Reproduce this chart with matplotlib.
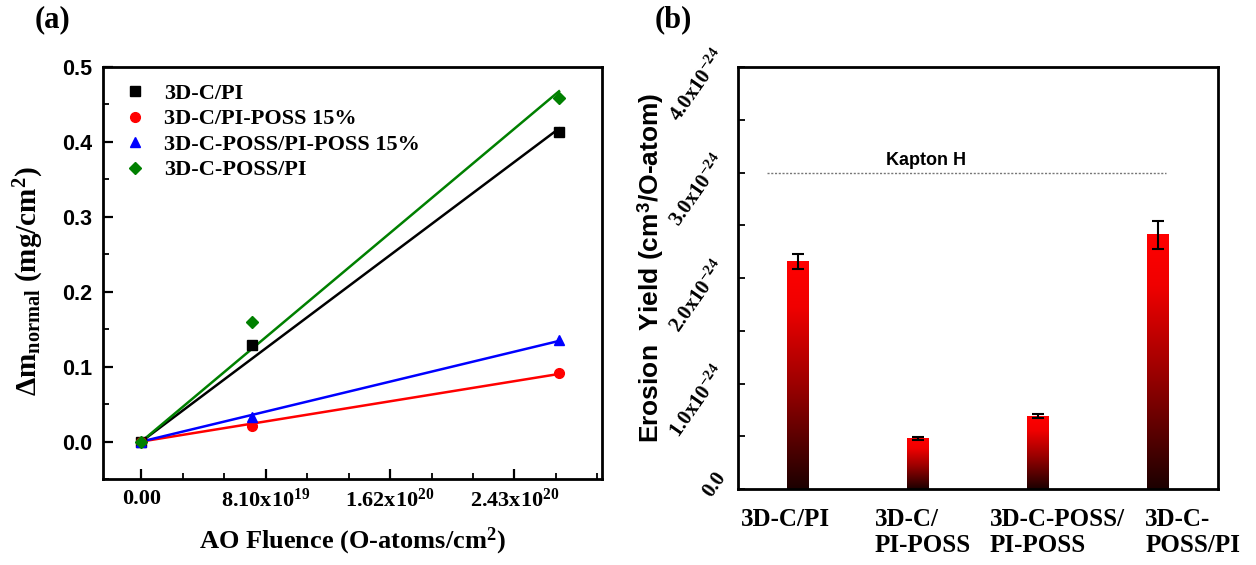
import numpy as np
import matplotlib
matplotlib.use('Agg')
import matplotlib.pyplot as plt
from matplotlib.colors import LinearSegmentedColormap
from matplotlib.ticker import MultipleLocator
from matplotlib.transforms import ScaledTranslation

plt.rcParams['font.family'] = ['Liberation Serif', 'DejaVu Serif']
plt.rcParams['font.weight'] = 'bold'
plt.rcParams['axes.labelweight'] = 'bold'
plt.rcParams['mathtext.fontset'] = 'custom'
plt.rcParams['mathtext.rm'] = 'Liberation Serif:bold'
plt.rcParams['mathtext.bf'] = 'Liberation Serif:bold'
plt.rcParams['mathtext.it'] = 'Liberation Serif:bold'
plt.rcParams['mathtext.sf'] = 'Liberation Sans:bold'

# ---------------- data: panel (a) ----------------
fluence = [0.0, 7.2e19, 2.72e20]
series_names = ['3D-C/PI', '3D-C/PI-POSS 15%', '3D-C-POSS/PI-POSS 15%', '3D-C-POSS/PI']
dm_c_pi = [0.0, 0.129, 0.413]
dm_c_pi_poss = [0.0, 0.021, 0.091]
dm_cposs_piposs = [0.0, 0.033, 0.135]
dm_cposs_pi = [0.0, 0.160, 0.458]
x_ticks_a = [0.0, 8.1e19, 1.62e20, 2.43e20]
x_ticklabels_a = ['0.00', r'$\mathbf{8.10x10^{19}}$', r'$\mathbf{1.62x10^{20}}$', r'$\mathbf{2.43x10^{20}}$']
y_ticks_a = [0.0, 0.1, 0.2, 0.3, 0.4, 0.5]

# ---------------- data: panel (b) ----------------
samples = ['3D-C/PI', '3D-C/\nPI-POSS', '3D-C-POSS/\nPI-POSS', '3D-C-\nPOSS/PI']
erosion_yield = [2.16, 0.475, 0.69, 2.41]      # x 1e-24 cm^3/O-atom
erosion_err = [0.07, 0.015, 0.02, 0.135]
kapton_yield = 3.0
y_ticks_b = [0.0, 1.0, 2.0, 3.0, 4.0]
y_ticklabels_b = ['0.0', r'$\mathbf{1.0x10^{-24}}$', r'$\mathbf{2.0x10^{-24}}$',
                  r'$\mathbf{3.0x10^{-24}}$', r'$\mathbf{4.0x10^{-24}}$']

W, H = 1256, 565
fig = plt.figure(figsize=(W / 100, H / 100), dpi=100)

# ================= panel (a) =================
ax1 = fig.add_axes([103 / W, (H - 479) / H, (602 - 103) / W, (479 - 67) / H])
styles = [('s', 'black'), ('o', 'red'), ('^', 'blue'), ('D', 'green')]
all_series = [dm_c_pi, dm_c_pi_poss, dm_cposs_piposs, dm_cposs_pi]
xf = np.array(fluence)
for name, ys, (mk, col) in zip(series_names, all_series, styles):
    ys = np.array(ys)
    slope = np.sum(xf * ys) / np.sum(xf * xf)
    ax1.plot([xf[0], xf[-1]], [slope * xf[0], slope * xf[-1]], '-', color=col, lw=1.8, zorder=2)
    ax1.plot(xf, ys, linestyle='none', marker=mk, color=col, ms=7 if mk != 'D' else 6.5,
             label=name, zorder=3)

ax1.set_xlim(-2.5e19, 3.0e20)
ax1.set_ylim(-0.05, 0.5)
ax1.set_xticks(x_ticks_a)
ax1.set_xticklabels(x_ticklabels_a, fontsize=16)
ax1.xaxis.set_minor_locator(MultipleLocator(2.7e19))
ax1.set_yticks(y_ticks_a)
ax1.set_yticklabels([f'{v:.1f}' for v in y_ticks_a], fontfamily='Liberation Sans',
                    fontweight='bold', fontsize=15.5)
ax1.yaxis.set_minor_locator(MultipleLocator(0.05))
ax1.tick_params(which='major', direction='in', length=7, width=1.6, top=False, right=False)
ax1.tick_params(which='minor', direction='in', length=4, width=1.3, top=False, right=False)
ax1.tick_params(axis='x', pad=7)
ax1.tick_params(axis='y', pad=8)
for s in ax1.spines.values():
    s.set_linewidth(2)

ax1.set_xlabel(r'AO Fluence (O-atoms/cm$^{\mathbf{2}}$)', fontsize=19, labelpad=10)
ax1.set_ylabel(r'$\Delta\mathbf{m}_{\mathbf{normal}}$ (mg/cm$^{\mathbf{2}}$)', fontsize=21)
ax1.yaxis.set_label_coords(-0.115, 0.48)

ax1.legend(loc='upper left', bbox_to_anchor=(0.046, 0.96), frameon=False, fontsize=16,
           handlelength=0.8, handletextpad=0.9, labelspacing=0.22, borderaxespad=0,
           borderpad=0, numpoints=1, prop={'weight': 'bold', 'size': 16})

# ================= panel (b) =================
ax2 = fig.add_axes([738 / W, (H - 489) / H, (1218 - 738) / W, (489 - 67) / H])
xb = np.arange(1, len(samples) + 1)
bar_w = 0.18
cmap = LinearSegmentedColormap.from_list('blkred', [(0.0, '#1c0000'), (0.45, '#9a0000'),
                                                     (0.8, '#f00000'), (1.0, '#ff0000')])
grad = np.linspace(0, 1, 256).reshape(-1, 1)
for xi, h in zip(xb, erosion_yield):
    ax2.imshow(grad, extent=[xi - bar_w / 2, xi + bar_w / 2, 0, h], origin='lower',
               aspect='auto', cmap=cmap, zorder=2)
ax2.errorbar(xb, erosion_yield, yerr=erosion_err, fmt='none', ecolor='black',
             elinewidth=1.5, capsize=4, capthick=1.5, zorder=3)
ax2.plot([0.74, 4.07], [kapton_yield, kapton_yield], linestyle=(0, (1.5, 1.2)),
         color='#777777', lw=1.0, zorder=1)
ax2.text(2.07, kapton_yield + 0.03, 'Kapton H', ha='center', va='bottom',
         fontfamily='Liberation Sans', fontweight='bold', fontsize=13)

ax2.set_xlim(0.5, 4.5)
ax2.set_ylim(0, 4.0)
label_shift = np.array([-0.1, 0.04, 0.16, 0.29])
ax2.set_xticks(xb + label_shift)
ax2.set_xticklabels(samples, fontsize=18, multialignment='left', linespacing=1.15)
ax2.tick_params(axis='x', length=0, pad=14)
ax2.set_yticks(y_ticks_b)
ax2.set_yticklabels([])
ax2.yaxis.set_minor_locator(MultipleLocator(0.5))
ax2.tick_params(axis='y', which='major', direction='in', length=5, width=1.3)
ax2.tick_params(axis='y', which='minor', direction='in', length=5, width=1.3)
ytrans = ax2.get_yaxis_transform() + ScaledTranslation(-16 / 100, 15 / 100, fig.dpi_scale_trans)
for v, lab in zip(y_ticks_b, y_ticklabels_b):
    ax2.text(0, v, lab, transform=ytrans, fontsize=15, rotation=55, rotation_mode='anchor',
             ha='right', va='center', clip_on=False)
for s in ax2.spines.values():
    s.set_linewidth(2)
ax2.set_ylabel(r'Erosion  Yield (cm$^{\mathsf{3}}$/O-atom)', fontfamily='Liberation Sans',
               fontweight='bold', fontsize=19)
ax2.yaxis.set_label_coords(-0.15, 0.525)

fig.text(52 / W, 1 - 20 / H, '(a)', ha='center', va='center', fontsize=22)
fig.text(673 / W, 1 - 20 / H, '(b)', ha='center', va='center', fontsize=22)

fig.savefig('out.png', dpi=100, facecolor='white')
